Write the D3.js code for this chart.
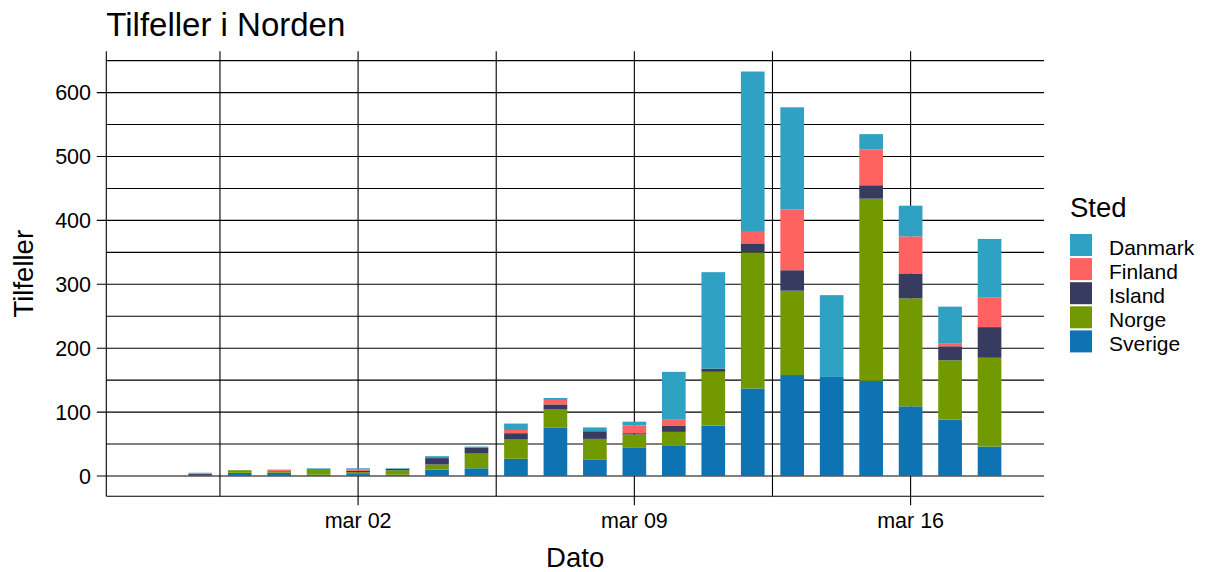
<!DOCTYPE html>
<html>
<head>
<meta charset="utf-8">
<script src="https://cdn.jsdelivr.net/npm/d3@7"></script>
<style>
  html, body { margin: 0; padding: 0; background: #fff; }
  svg text { font-family: "Liberation Sans", Arial, sans-serif; fill: #000; }
</style>
</head>
<body>
<svg id="chart" width="1209" height="572"></svg>
<script>
// ---- data (new cases per day) ----
const dates   = ["2020-02-26","2020-02-27","2020-02-28","2020-02-29","2020-03-01","2020-03-02","2020-03-03","2020-03-04","2020-03-05","2020-03-06","2020-03-07","2020-03-08","2020-03-09","2020-03-10","2020-03-11","2020-03-12","2020-03-13","2020-03-14","2020-03-15","2020-03-16","2020-03-17","2020-03-18"];
const sverige = [0, 1, 5, 5, 2, 3, 2, 10, 12, 27, 76, 26, 44, 47, 79, 137, 158, 155, 149, 109, 88, 46];
const norge   = [0, 0, 4, 3, 9, 3, 7, 8, 23, 30, 28, 32, 21, 22, 84, 213, 132, 0, 285, 169, 93, 139];
const island  = [0, 2, 0, 0, 0, 2, 2, 10, 9, 10, 8, 12, 2, 10, 5, 14, 32, 0, 21, 39, 22, 48];
const finland = [0, 1, 0, 2, 0, 2, 0, 0, 0, 5, 7, 0, 12, 9, 0, 18, 95, 0, 56, 58, 4, 46];
const danmark = [0, 1, 0, 0, 1, 2, 1, 3, 2, 10, 3, 6, 6, 75, 151, 251, 160, 128, 24, 48, 58, 92];

const places  = ["Danmark", "Finland", "Island", "Norge", "Sverige"];   // legend order
const stackOrder = ["Sverige", "Norge", "Island", "Finland", "Danmark"]; // bottom -> top
const colors  = ["#2FA1C2", "#FF6361", "#383B60", "#729A00", "#0D73B3"];
const yTicks  = [0, 100, 200, 300, 400, 500, 600];
const xTickDates = ["2020-03-02", "2020-03-09", "2020-03-16"];
const xTickLabels = ["mar 02", "mar 09", "mar 16"];

const titleText = "Tilfeller i Norden";
const xTitle = "Dato";
const yTitle = "Tilfeller";
const legendTitle = "Sted";

// ---- build table ----
const parse = d3.utcParse("%Y-%m-%d");
const series = { Sverige: sverige, Norge: norge, Island: island, Finland: finland, Danmark: danmark };
const rows = dates.map((d, i) => {
  const r = { date: parse(d) };
  stackOrder.forEach(k => r[k] = series[k][i]);
  return r;
});

const svg = d3.select("#chart");
const L = 106.3, R = 1044, T = 51.3, B = 496.2;
const DAY = 864e5;
const halfW = 0.3 * DAY;

// x domain: data range +- half bar width, expanded by 5%
const x0 = d3.min(rows, r => +r.date) - halfW, x1 = d3.max(rows, r => +r.date) + halfW;
const xpad = (x1 - x0) * 0.05;
const x = d3.scaleUtc().domain([new Date(x0 - xpad), new Date(x1 + xpad)]).range([L, R]);

const stack = d3.stack().keys(stackOrder);
const stacked = stack(rows);
const ymax = d3.max(rows, r => stackOrder.reduce((s, k) => s + r[k], 0));
const ypad = ymax * 0.05;
const y = d3.scaleLinear().domain([-ypad, ymax + ypad]).range([B, T]);

const color = d3.scaleOrdinal().domain(places).range(colors);

// ---- grid ----
const g = svg.append("g");
const minorY = d3.range(50, ymax + ypad, 100);
g.selectAll(".hminor").data(minorY).join("line")
  .attr("x1", L).attr("x2", R).attr("y1", d => y(d)).attr("y2", d => y(d))
  .attr("stroke", "#000").attr("stroke-width", 1.1);
g.selectAll(".hmajor").data(yTicks).join("line")
  .attr("x1", L - 9.5).attr("x2", R).attr("y1", d => y(d)).attr("y2", d => y(d))
  .attr("stroke", "#000").attr("stroke-width", 1.1);

const xMajor = xTickDates.map(parse);
const minorX = xMajor.map(d => new Date(+d - 3.5 * DAY));
g.selectAll(".vminor").data(minorX).join("line")
  .attr("x1", d => x(d)).attr("x2", d => x(d)).attr("y1", T).attr("y2", B)
  .attr("stroke", "#000").attr("stroke-width", 1.1);
g.selectAll(".vmajor").data(xMajor).join("line")
  .attr("x1", d => x(d)).attr("x2", d => x(d)).attr("y1", T).attr("y2", B + 9)
  .attr("stroke", "#000").attr("stroke-width", 1.1);

// axis lines
g.append("line").attr("x1", L).attr("x2", L).attr("y1", T).attr("y2", B).attr("stroke", "#000").attr("stroke-width", 1.1);
g.append("line").attr("x1", L).attr("x2", R).attr("y1", B).attr("y2", B).attr("stroke", "#000").attr("stroke-width", 1.1);

// ---- bars ----
const bars = svg.append("g");
stacked.forEach(layer => {
  bars.append("g").attr("fill", color(layer.key))
    .selectAll("rect").data(layer).join("rect")
    .attr("x", d => x(new Date(+d.data.date - halfW)))
    .attr("width", d => x(new Date(+d.data.date + halfW)) - x(new Date(+d.data.date - halfW)))
    .attr("y", d => y(d[1]))
    .attr("height", d => Math.max(0, y(d[0]) - y(d[1])));
});

// ---- tick labels ----
svg.append("g").selectAll("text").data(yTicks).join("text")
  .attr("x", 91).attr("y", d => y(d)).attr("dy", "0.36em")
  .attr("text-anchor", "end").attr("font-size", 21.5).attr("fill", "#222")
  .text(d => d);
svg.append("g").selectAll("text").data(xMajor).join("text")
  .attr("x", d => x(d)).attr("y", 527.5)
  .attr("text-anchor", "middle").attr("font-size", 21.5)
  .text((d, i) => xTickLabels[i]);

// ---- titles ----
svg.append("text").attr("x", L).attr("y", 36).attr("font-size", 33).text(titleText);
svg.append("text").attr("x", (L + R) / 2).attr("y", 567).attr("text-anchor", "middle")
  .attr("font-size", 27.5).text(xTitle);
svg.append("text").attr("transform", `translate(33,${(T + B) / 2}) rotate(-90)`)
  .attr("text-anchor", "middle").attr("font-size", 27.5).text(yTitle);

// ---- legend ----
const lg = svg.append("g").attr("transform", "translate(1070,0)");
lg.append("text").attr("x", 0).attr("y", 217).attr("font-size", 27.5).text(legendTitle);
const items = lg.selectAll(".item").data(places).join("g")
  .attr("transform", (d, i) => `translate(0,${234 + i * 24.1})`);
items.append("rect").attr("x", 0).attr("y", 0).attr("width", 22).attr("height", 22)
  .attr("fill", d => color(d));
items.append("text").attr("x", 39).attr("y", 13).attr("dy", "0.36em")
  .attr("font-size", 21).text(d => d);
</script>
</body>
</html>
